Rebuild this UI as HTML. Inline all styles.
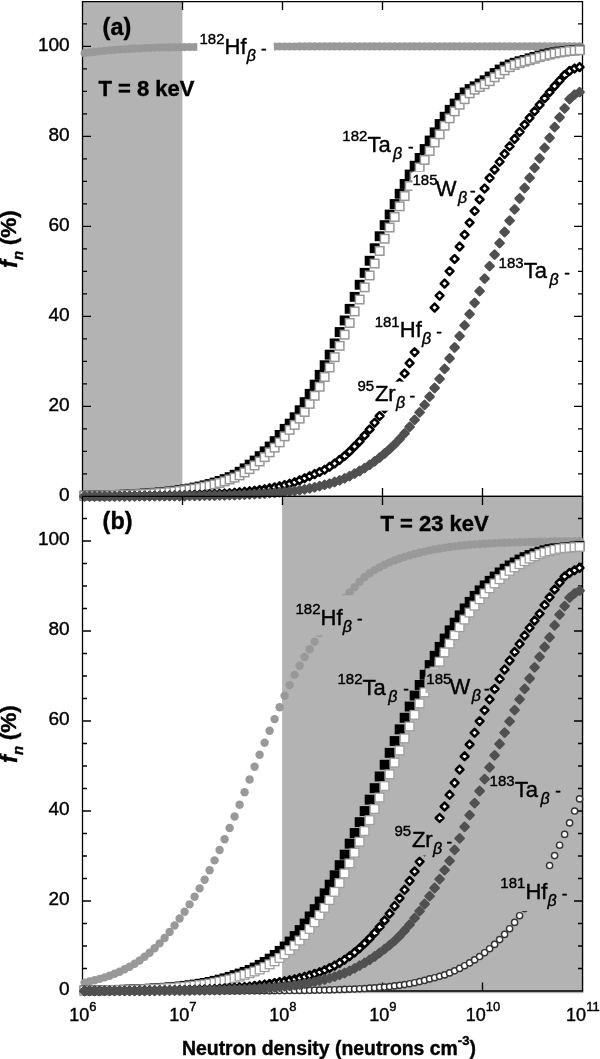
<!DOCTYPE html>
<html><head><meta charset="utf-8"><title>Figure</title>
<style>html,body{margin:0;padding:0;background:#fff}svg{display:block}text{stroke:#000;stroke-width:.4px}</style></head>
<body>
<svg width="600" height="1059" viewBox="0 0 600 1059" font-family="'Liberation Sans', Arial, sans-serif" fill="#000">
<rect x="0" y="0" width="600" height="1059" fill="#fff"/>
<rect x="82.5" y="1.6" width="99.9" height="494.79999999999995" fill="#b3b3b3"/>
<g stroke="#000" stroke-width="1.3" fill="none"><path d="M82.5 0.9000000000000001V497.09999999999997M582.5 0.9000000000000001V497.09999999999997M81.8 1.6H583.2M81.8 496.4H583.2"/><path stroke-width="1.35" d="M82.5 473.9h4.5M582.5 473.9h-4.5M82.5 451.4h4.5M582.5 451.4h-4.5M82.5 428.9h4.5M582.5 428.9h-4.5M82.5 406.4h8.5M582.5 406.4h-8.5M82.5 383.9h4.5M582.5 383.9h-4.5M82.5 361.4h4.5M582.5 361.4h-4.5M82.5 338.9h4.5M582.5 338.9h-4.5M82.5 316.4h8.5M582.5 316.4h-8.5M82.5 293.9h4.5M582.5 293.9h-4.5M82.5 271.4h4.5M582.5 271.4h-4.5M82.5 248.9h4.5M582.5 248.9h-4.5M82.5 226.4h8.5M582.5 226.4h-8.5M82.5 203.9h4.5M582.5 203.9h-4.5M82.5 181.4h4.5M582.5 181.4h-4.5M82.5 158.9h4.5M582.5 158.9h-4.5M82.5 136.4h8.5M582.5 136.4h-8.5M82.5 113.9h4.5M582.5 113.9h-4.5M82.5 91.4h4.5M582.5 91.4h-4.5M82.5 68.9h4.5M582.5 68.9h-4.5M82.5 46.4h8.5M582.5 46.4h-8.5M82.5 23.9h4.5M582.5 23.9h-4.5M182.5 1.6v8.5M182.5 496.4v-8.5M282.5 1.6v8.5M282.5 496.4v-8.5M382.5 1.6v8.5M382.5 496.4v-8.5M482.5 1.6v8.5M482.5 496.4v-8.5"/></g>
<g fill="#999"><circle cx="84.6" cy="53.2" r="4.05"/><circle cx="89.6" cy="52.5" r="4.05"/><circle cx="94.6" cy="51.9" r="4.05"/><circle cx="99.6" cy="51.3" r="4.05"/><circle cx="104.6" cy="50.7" r="4.05"/><circle cx="109.6" cy="50.3" r="4.05"/><circle cx="114.6" cy="49.9" r="4.05"/><circle cx="119.6" cy="49.5" r="4.05"/><circle cx="124.6" cy="49.2" r="4.05"/><circle cx="129.6" cy="48.9" r="4.05"/><circle cx="134.6" cy="48.6" r="4.05"/><circle cx="139.6" cy="48.4" r="4.05"/><circle cx="144.6" cy="48.1" r="4.05"/><circle cx="149.6" cy="48.0" r="4.05"/><circle cx="154.6" cy="47.8" r="4.05"/><circle cx="159.6" cy="47.6" r="4.05"/><circle cx="164.6" cy="47.5" r="4.05"/><circle cx="169.6" cy="47.4" r="4.05"/><circle cx="174.6" cy="47.3" r="4.05"/><circle cx="179.6" cy="47.2" r="4.05"/><circle cx="184.6" cy="47.1" r="4.05"/><circle cx="189.6" cy="47.0" r="4.05"/><circle cx="194.6" cy="47.0" r="4.05"/><circle cx="199.6" cy="46.9" r="4.05"/><circle cx="204.6" cy="46.8" r="4.05"/><circle cx="209.6" cy="46.8" r="4.05"/><circle cx="214.6" cy="46.7" r="4.05"/><circle cx="219.6" cy="46.7" r="4.05"/><circle cx="224.6" cy="46.7" r="4.05"/><circle cx="229.6" cy="46.6" r="4.05"/><circle cx="234.6" cy="46.6" r="4.05"/><circle cx="239.6" cy="46.6" r="4.05"/><circle cx="244.6" cy="46.6" r="4.05"/><circle cx="249.6" cy="46.6" r="4.05"/><circle cx="254.6" cy="46.5" r="4.05"/><circle cx="259.6" cy="46.5" r="4.05"/><circle cx="264.6" cy="46.5" r="4.05"/><circle cx="269.6" cy="46.5" r="4.05"/><circle cx="274.6" cy="46.5" r="4.05"/><circle cx="279.6" cy="46.5" r="4.05"/><circle cx="284.6" cy="46.5" r="4.05"/><circle cx="289.6" cy="46.5" r="4.05"/><circle cx="294.6" cy="46.5" r="4.05"/><circle cx="299.6" cy="46.4" r="4.05"/><circle cx="304.6" cy="46.4" r="4.05"/><circle cx="309.6" cy="46.4" r="4.05"/><circle cx="314.6" cy="46.4" r="4.05"/><circle cx="319.6" cy="46.4" r="4.05"/><circle cx="324.6" cy="46.4" r="4.05"/><circle cx="329.6" cy="46.4" r="4.05"/><circle cx="334.6" cy="46.4" r="4.05"/><circle cx="339.6" cy="46.4" r="4.05"/><circle cx="344.6" cy="46.4" r="4.05"/><circle cx="349.6" cy="46.4" r="4.05"/><circle cx="354.6" cy="46.4" r="4.05"/><circle cx="359.6" cy="46.4" r="4.05"/><circle cx="364.6" cy="46.4" r="4.05"/><circle cx="369.6" cy="46.4" r="4.05"/><circle cx="374.6" cy="46.4" r="4.05"/><circle cx="379.6" cy="46.4" r="4.05"/><circle cx="384.6" cy="46.4" r="4.05"/><circle cx="389.6" cy="46.4" r="4.05"/><circle cx="394.6" cy="46.4" r="4.05"/><circle cx="399.6" cy="46.4" r="4.05"/><circle cx="404.6" cy="46.4" r="4.05"/><circle cx="409.6" cy="46.4" r="4.05"/><circle cx="414.6" cy="46.4" r="4.05"/><circle cx="419.6" cy="46.4" r="4.05"/><circle cx="424.6" cy="46.4" r="4.05"/><circle cx="429.6" cy="46.4" r="4.05"/><circle cx="434.6" cy="46.4" r="4.05"/><circle cx="439.6" cy="46.4" r="4.05"/><circle cx="444.6" cy="46.4" r="4.05"/><circle cx="449.6" cy="46.4" r="4.05"/><circle cx="454.6" cy="46.4" r="4.05"/><circle cx="459.6" cy="46.4" r="4.05"/><circle cx="464.6" cy="46.4" r="4.05"/><circle cx="469.6" cy="46.4" r="4.05"/><circle cx="474.6" cy="46.4" r="4.05"/><circle cx="479.6" cy="46.4" r="4.05"/><circle cx="484.6" cy="46.4" r="4.05"/><circle cx="489.6" cy="46.4" r="4.05"/><circle cx="494.6" cy="46.4" r="4.05"/><circle cx="499.6" cy="46.4" r="4.05"/><circle cx="504.6" cy="46.4" r="4.05"/><circle cx="509.6" cy="46.4" r="4.05"/><circle cx="514.6" cy="46.4" r="4.05"/><circle cx="519.6" cy="46.4" r="4.05"/><circle cx="524.6" cy="46.4" r="4.05"/><circle cx="529.6" cy="46.4" r="4.05"/><circle cx="534.6" cy="46.4" r="4.05"/><circle cx="539.6" cy="46.4" r="4.05"/><circle cx="544.6" cy="46.4" r="4.05"/><circle cx="549.6" cy="46.4" r="4.05"/><circle cx="554.6" cy="46.4" r="4.05"/><circle cx="559.6" cy="46.4" r="4.05"/><circle cx="564.6" cy="46.4" r="4.05"/><circle cx="569.6" cy="46.4" r="4.05"/><circle cx="574.6" cy="46.4" r="4.05"/><circle cx="579.6" cy="46.4" r="4.05"/></g>
<rect x="197.3" y="30" width="76.5" height="40.0" fill="#fff"/>
<g fill="#000"><rect x="79.6" y="490.7" width="9.9" height="9.9"/><rect x="84.6" y="490.7" width="9.9" height="9.9"/><rect x="89.6" y="490.6" width="9.9" height="9.9"/><rect x="94.6" y="490.4" width="9.9" height="9.9"/><rect x="99.6" y="490.3" width="9.9" height="9.9"/><rect x="104.6" y="490.2" width="9.9" height="9.9"/><rect x="109.6" y="490.0" width="9.9" height="9.9"/><rect x="114.6" y="489.9" width="9.9" height="9.9"/><rect x="119.6" y="489.7" width="9.9" height="9.9"/><rect x="124.6" y="489.4" width="9.9" height="9.9"/><rect x="129.7" y="489.2" width="9.9" height="9.9"/><rect x="134.7" y="488.9" width="9.9" height="9.9"/><rect x="139.7" y="488.6" width="9.9" height="9.9"/><rect x="144.7" y="488.3" width="9.9" height="9.9"/><rect x="149.7" y="487.9" width="9.9" height="9.9"/><rect x="154.7" y="487.5" width="9.9" height="9.9"/><rect x="159.7" y="487.0" width="9.9" height="9.9"/><rect x="164.7" y="486.5" width="9.9" height="9.9"/><rect x="169.7" y="485.9" width="9.9" height="9.9"/><rect x="174.7" y="485.2" width="9.9" height="9.9"/><rect x="179.7" y="484.4" width="9.9" height="9.9"/><rect x="184.7" y="483.6" width="9.9" height="9.9"/><rect x="189.7" y="482.6" width="9.9" height="9.9"/><rect x="194.7" y="481.6" width="9.9" height="9.9"/><rect x="199.7" y="480.4" width="9.9" height="9.9"/><rect x="204.7" y="479.1" width="9.9" height="9.9"/><rect x="209.7" y="477.6" width="9.9" height="9.9"/><rect x="214.7" y="476.0" width="9.9" height="9.9"/><rect x="219.7" y="474.2" width="9.9" height="9.9"/><rect x="224.7" y="472.2" width="9.9" height="9.9"/><rect x="229.7" y="469.8" width="9.9" height="9.9"/><rect x="234.7" y="466.8" width="9.9" height="9.9"/><rect x="239.7" y="463.4" width="9.9" height="9.9"/><rect x="244.7" y="459.7" width="9.9" height="9.9"/><rect x="249.7" y="455.6" width="9.9" height="9.9"/><rect x="254.7" y="451.2" width="9.9" height="9.9"/><rect x="259.7" y="446.4" width="9.9" height="9.9"/><rect x="264.7" y="441.6" width="9.9" height="9.9"/><rect x="269.7" y="436.2" width="9.9" height="9.9"/><rect x="274.7" y="430.0" width="9.9" height="9.9"/><rect x="279.7" y="423.9" width="9.9" height="9.9"/><rect x="284.7" y="418.7" width="9.9" height="9.9"/><rect x="289.7" y="412.3" width="9.9" height="9.9"/><rect x="294.7" y="405.3" width="9.9" height="9.9"/><rect x="299.7" y="397.2" width="9.9" height="9.9"/><rect x="304.7" y="388.9" width="9.9" height="9.9"/><rect x="309.7" y="379.7" width="9.9" height="9.9"/><rect x="314.7" y="369.9" width="9.9" height="9.9"/><rect x="319.7" y="360.3" width="9.9" height="9.9"/><rect x="324.7" y="349.7" width="9.9" height="9.9"/><rect x="329.7" y="338.5" width="9.9" height="9.9"/><rect x="334.7" y="327.1" width="9.9" height="9.9"/><rect x="339.7" y="315.5" width="9.9" height="9.9"/><rect x="344.7" y="303.9" width="9.9" height="9.9"/><rect x="349.7" y="291.9" width="9.9" height="9.9"/><rect x="354.7" y="279.8" width="9.9" height="9.9"/><rect x="359.7" y="267.9" width="9.9" height="9.9"/><rect x="364.7" y="255.8" width="9.9" height="9.9"/><rect x="369.7" y="243.3" width="9.9" height="9.9"/><rect x="374.7" y="231.3" width="9.9" height="9.9"/><rect x="379.7" y="220.2" width="9.9" height="9.9"/><rect x="384.7" y="209.6" width="9.9" height="9.9"/><rect x="389.7" y="199.1" width="9.9" height="9.9"/><rect x="394.7" y="188.8" width="9.9" height="9.9"/><rect x="399.7" y="179.0" width="9.9" height="9.9"/><rect x="404.7" y="169.6" width="9.9" height="9.9"/><rect x="409.7" y="160.8" width="9.9" height="9.9"/><rect x="414.7" y="153.0" width="9.9" height="9.9"/><rect x="419.7" y="144.1" width="9.9" height="9.9"/><rect x="424.7" y="135.6" width="9.9" height="9.9"/><rect x="429.7" y="127.4" width="9.9" height="9.9"/><rect x="434.7" y="119.1" width="9.9" height="9.9"/><rect x="439.7" y="111.8" width="9.9" height="9.9"/><rect x="444.7" y="104.9" width="9.9" height="9.9"/><rect x="449.7" y="98.6" width="9.9" height="9.9"/><rect x="454.7" y="92.9" width="9.9" height="9.9"/><rect x="459.7" y="87.5" width="9.9" height="9.9"/><rect x="464.7" y="84.1" width="9.9" height="9.9"/><rect x="469.7" y="81.4" width="9.9" height="9.9"/><rect x="474.7" y="78.6" width="9.9" height="9.9"/><rect x="479.7" y="75.3" width="9.9" height="9.9"/><rect x="484.7" y="71.6" width="9.9" height="9.9"/><rect x="489.7" y="68.1" width="9.9" height="9.9"/><rect x="494.7" y="64.6" width="9.9" height="9.9"/><rect x="499.7" y="61.7" width="9.9" height="9.9"/><rect x="504.7" y="59.5" width="9.9" height="9.9"/><rect x="509.7" y="57.8" width="9.9" height="9.9"/><rect x="514.6" y="56.3" width="9.9" height="9.9"/><rect x="519.6" y="55.0" width="9.9" height="9.9"/><rect x="524.6" y="53.4" width="9.9" height="9.9"/><rect x="529.6" y="51.9" width="9.9" height="9.9"/><rect x="534.6" y="50.6" width="9.9" height="9.9"/><rect x="539.6" y="49.4" width="9.9" height="9.9"/><rect x="544.6" y="48.3" width="9.9" height="9.9"/><rect x="549.6" y="47.4" width="9.9" height="9.9"/><rect x="554.6" y="46.6" width="9.9" height="9.9"/><rect x="559.6" y="46.0" width="9.9" height="9.9"/><rect x="564.6" y="45.6" width="9.9" height="9.9"/><rect x="569.6" y="45.2" width="9.9" height="9.9"/><rect x="574.6" y="44.8" width="9.9" height="9.9"/></g>
<g fill="#fff" stroke="#969696" stroke-width="1.5"><rect x="80.3" y="491.5" width="8.5" height="8.5"/><rect x="85.3" y="491.5" width="8.5" height="8.5"/><rect x="90.3" y="491.4" width="8.5" height="8.5"/><rect x="95.3" y="491.3" width="8.5" height="8.5"/><rect x="100.3" y="491.2" width="8.5" height="8.5"/><rect x="105.3" y="491.1" width="8.5" height="8.5"/><rect x="110.3" y="490.9" width="8.5" height="8.5"/><rect x="115.3" y="490.8" width="8.5" height="8.5"/><rect x="120.3" y="490.6" width="8.5" height="8.5"/><rect x="125.3" y="490.4" width="8.5" height="8.5"/><rect x="130.3" y="490.2" width="8.5" height="8.5"/><rect x="135.3" y="490.0" width="8.5" height="8.5"/><rect x="140.3" y="489.7" width="8.5" height="8.5"/><rect x="145.3" y="489.4" width="8.5" height="8.5"/><rect x="150.3" y="489.1" width="8.5" height="8.5"/><rect x="155.3" y="488.7" width="8.5" height="8.5"/><rect x="160.3" y="488.3" width="8.5" height="8.5"/><rect x="165.3" y="487.8" width="8.5" height="8.5"/><rect x="170.3" y="487.3" width="8.5" height="8.5"/><rect x="175.3" y="486.7" width="8.5" height="8.5"/><rect x="180.3" y="486.0" width="8.5" height="8.5"/><rect x="185.3" y="485.3" width="8.5" height="8.5"/><rect x="190.3" y="484.5" width="8.5" height="8.5"/><rect x="195.3" y="483.6" width="8.5" height="8.5"/><rect x="200.3" y="482.5" width="8.5" height="8.5"/><rect x="205.3" y="481.4" width="8.5" height="8.5"/><rect x="210.3" y="480.1" width="8.5" height="8.5"/><rect x="215.3" y="478.7" width="8.5" height="8.5"/><rect x="220.3" y="477.1" width="8.5" height="8.5"/><rect x="225.3" y="475.3" width="8.5" height="8.5"/><rect x="230.3" y="473.4" width="8.5" height="8.5"/><rect x="235.3" y="471.1" width="8.5" height="8.5"/><rect x="240.3" y="468.2" width="8.5" height="8.5"/><rect x="245.3" y="464.9" width="8.5" height="8.5"/><rect x="250.3" y="461.2" width="8.5" height="8.5"/><rect x="255.4" y="457.2" width="8.5" height="8.5"/><rect x="260.4" y="452.9" width="8.5" height="8.5"/><rect x="265.4" y="448.1" width="8.5" height="8.5"/><rect x="270.4" y="443.4" width="8.5" height="8.5"/><rect x="275.4" y="438.1" width="8.5" height="8.5"/><rect x="280.4" y="432.1" width="8.5" height="8.5"/><rect x="285.4" y="425.6" width="8.5" height="8.5"/><rect x="290.4" y="420.7" width="8.5" height="8.5"/><rect x="295.4" y="414.4" width="8.5" height="8.5"/><rect x="300.4" y="407.7" width="8.5" height="8.5"/><rect x="305.4" y="399.6" width="8.5" height="8.5"/><rect x="310.4" y="391.5" width="8.5" height="8.5"/><rect x="315.4" y="382.5" width="8.5" height="8.5"/><rect x="320.4" y="372.7" width="8.5" height="8.5"/><rect x="325.4" y="363.2" width="8.5" height="8.5"/><rect x="330.4" y="352.9" width="8.5" height="8.5"/><rect x="335.4" y="341.6" width="8.5" height="8.5"/><rect x="340.4" y="330.4" width="8.5" height="8.5"/><rect x="345.4" y="318.7" width="8.5" height="8.5"/><rect x="350.4" y="307.2" width="8.5" height="8.5"/><rect x="355.4" y="295.3" width="8.5" height="8.5"/><rect x="360.4" y="283.1" width="8.5" height="8.5"/><rect x="365.4" y="271.2" width="8.5" height="8.5"/><rect x="370.4" y="259.3" width="8.5" height="8.5"/><rect x="375.4" y="246.7" width="8.5" height="8.5"/><rect x="380.4" y="234.5" width="8.5" height="8.5"/><rect x="385.4" y="223.3" width="8.5" height="8.5"/><rect x="390.4" y="212.7" width="8.5" height="8.5"/><rect x="395.4" y="202.1" width="8.5" height="8.5"/><rect x="400.4" y="191.8" width="8.5" height="8.5"/><rect x="405.4" y="181.8" width="8.5" height="8.5"/><rect x="410.4" y="172.3" width="8.5" height="8.5"/><rect x="415.4" y="163.2" width="8.5" height="8.5"/><rect x="420.4" y="155.7" width="8.5" height="8.5"/><rect x="425.4" y="146.7" width="8.5" height="8.5"/><rect x="430.4" y="138.2" width="8.5" height="8.5"/><rect x="435.4" y="130.1" width="8.5" height="8.5"/><rect x="440.4" y="121.5" width="8.5" height="8.5"/><rect x="445.4" y="114.1" width="8.5" height="8.5"/><rect x="450.4" y="107.1" width="8.5" height="8.5"/><rect x="455.4" y="100.5" width="8.5" height="8.5"/><rect x="460.4" y="94.9" width="8.5" height="8.5"/><rect x="465.4" y="89.1" width="8.5" height="8.5"/><rect x="470.4" y="85.4" width="8.5" height="8.5"/><rect x="475.4" y="82.7" width="8.5" height="8.5"/><rect x="480.4" y="80.0" width="8.5" height="8.5"/><rect x="485.4" y="76.9" width="8.5" height="8.5"/><rect x="490.4" y="73.0" width="8.5" height="8.5"/><rect x="495.4" y="69.7" width="8.5" height="8.5"/><rect x="500.4" y="66.1" width="8.5" height="8.5"/><rect x="505.4" y="62.9" width="8.5" height="8.5"/><rect x="510.4" y="60.6" width="8.5" height="8.5"/><rect x="515.4" y="58.9" width="8.5" height="8.5"/><rect x="520.4" y="57.4" width="8.5" height="8.5"/><rect x="525.4" y="56.0" width="8.5" height="8.5"/><rect x="530.4" y="54.5" width="8.5" height="8.5"/><rect x="535.4" y="52.9" width="8.5" height="8.5"/><rect x="540.4" y="51.6" width="8.5" height="8.5"/><rect x="545.4" y="50.4" width="8.5" height="8.5"/><rect x="550.4" y="49.2" width="8.5" height="8.5"/><rect x="555.4" y="48.3" width="8.5" height="8.5"/><rect x="560.4" y="47.5" width="8.5" height="8.5"/><rect x="565.4" y="46.8" width="8.5" height="8.5"/><rect x="570.4" y="46.4" width="8.5" height="8.5"/><rect x="575.4" y="46.0" width="8.5" height="8.5"/></g>
<rect x="412.5" y="171.7" width="63.5" height="20.3" fill="#fff"/>
<g fill="#fff" stroke="#000" stroke-width="2.5" stroke-linejoin="round"><path d="M80.7 496.3L84.6 492.4L88.5 496.3L84.6 500.2Z"/><path d="M85.7 496.3L89.6 492.4L93.5 496.3L89.6 500.2Z"/><path d="M90.7 496.3L94.6 492.4L98.5 496.3L94.6 500.2Z"/><path d="M95.7 496.2L99.6 492.3L103.5 496.2L99.6 500.1Z"/><path d="M100.7 496.2L104.6 492.3L108.5 496.2L104.6 500.1Z"/><path d="M105.7 496.2L109.6 492.3L113.5 496.2L109.6 500.1Z"/><path d="M110.7 496.2L114.6 492.3L118.5 496.2L114.6 500.1Z"/><path d="M115.7 496.1L119.6 492.2L123.5 496.1L119.6 500.0Z"/><path d="M120.7 496.1L124.6 492.2L128.5 496.1L124.6 500.0Z"/><path d="M125.7 496.1L129.6 492.2L133.5 496.1L129.6 500.0Z"/><path d="M130.7 496.0L134.6 492.1L138.5 496.0L134.6 499.9Z"/><path d="M135.7 496.0L139.6 492.1L143.5 496.0L139.6 499.9Z"/><path d="M140.7 495.9L144.6 492.0L148.5 495.9L144.6 499.8Z"/><path d="M145.7 495.9L149.6 492.0L153.5 495.9L149.6 499.8Z"/><path d="M150.7 495.8L154.6 491.9L158.5 495.8L154.6 499.7Z"/><path d="M155.7 495.7L159.6 491.8L163.5 495.7L159.6 499.6Z"/><path d="M160.7 495.7L164.6 491.8L168.5 495.7L164.6 499.6Z"/><path d="M165.7 495.6L169.6 491.7L173.5 495.6L169.6 499.5Z"/><path d="M170.7 495.5L174.6 491.6L178.5 495.5L174.6 499.4Z"/><path d="M175.7 495.4L179.6 491.5L183.5 495.4L179.6 499.3Z"/><path d="M180.7 495.2L184.6 491.3L188.5 495.2L184.6 499.1Z"/><path d="M185.7 495.1L189.6 491.2L193.5 495.1L189.6 499.0Z"/><path d="M190.7 494.9L194.6 491.0L198.5 494.9L194.6 498.8Z"/><path d="M195.7 494.8L199.6 490.9L203.5 494.8L199.6 498.7Z"/><path d="M200.7 494.6L204.6 490.7L208.5 494.6L204.6 498.5Z"/><path d="M205.7 494.3L209.6 490.4L213.5 494.3L209.6 498.2Z"/><path d="M210.7 494.1L214.6 490.2L218.5 494.1L214.6 498.0Z"/><path d="M215.7 493.8L219.6 489.9L223.5 493.8L219.6 497.7Z"/><path d="M220.7 493.5L224.6 489.6L228.5 493.5L224.6 497.4Z"/><path d="M225.7 493.2L229.6 489.3L233.5 493.2L229.6 497.1Z"/><path d="M230.7 492.8L234.6 488.9L238.5 492.8L234.6 496.7Z"/><path d="M235.7 492.3L239.6 488.4L243.5 492.3L239.6 496.2Z"/><path d="M240.7 491.8L244.6 487.9L248.5 491.8L244.6 495.7Z"/><path d="M245.7 491.3L249.6 487.4L253.5 491.3L249.6 495.2Z"/><path d="M250.7 490.7L254.6 486.8L258.5 490.7L254.6 494.6Z"/><path d="M255.7 490.0L259.6 486.1L263.5 490.0L259.6 493.9Z"/><path d="M260.7 489.2L264.6 485.3L268.5 489.2L264.6 493.1Z"/><path d="M265.7 488.3L269.6 484.4L273.5 488.3L269.6 492.2Z"/><path d="M270.7 487.4L274.6 483.5L278.5 487.4L274.6 491.3Z"/><path d="M275.7 486.3L279.6 482.4L283.5 486.3L279.6 490.2Z"/><path d="M280.7 485.1L284.6 481.2L288.5 485.1L284.6 489.0Z"/><path d="M285.7 483.8L289.6 479.9L293.5 483.8L289.6 487.7Z"/><path d="M290.7 482.2L294.6 478.3L298.5 482.2L294.6 486.1Z"/><path d="M295.7 480.3L299.6 476.4L303.5 480.3L299.6 484.2Z"/><path d="M300.7 478.2L304.6 474.3L308.5 478.2L304.6 482.1Z"/><path d="M305.7 476.2L309.6 472.3L313.5 476.2L309.6 480.1Z"/><path d="M310.7 474.1L314.6 470.2L318.5 474.1L314.6 478.0Z"/><path d="M315.7 472.0L319.6 468.1L323.5 472.0L319.6 475.9Z"/><path d="M320.7 469.8L324.6 465.9L328.5 469.8L324.6 473.7Z"/><path d="M325.7 466.8L329.6 462.9L333.5 466.8L329.6 470.7Z"/><path d="M330.7 463.5L334.6 459.6L338.5 463.5L334.6 467.4Z"/><path d="M335.7 459.9L339.6 456.0L343.5 459.9L339.6 463.8Z"/><path d="M340.7 456.0L344.6 452.1L348.5 456.0L344.6 459.9Z"/><path d="M345.7 451.5L349.6 447.6L353.5 451.5L349.6 455.4Z"/><path d="M350.7 446.4L354.6 442.5L358.5 446.4L354.6 450.3Z"/><path d="M355.7 441.4L359.6 437.5L363.5 441.4L359.6 445.3Z"/><path d="M360.7 435.5L364.6 431.6L368.5 435.5L364.6 439.4Z"/><path d="M365.7 429.5L369.6 425.6L373.5 429.5L369.6 433.4Z"/><path d="M370.7 422.7L374.6 418.8L378.5 422.7L374.6 426.6Z"/><path d="M375.7 416.0L379.6 412.1L383.5 416.0L379.6 419.9Z"/><path d="M380.7 408.5L384.6 404.6L388.5 408.5L384.6 412.4Z"/><path d="M385.7 400.5L389.6 396.6L393.5 400.5L389.6 404.4Z"/><path d="M390.7 392.0L394.6 388.1L398.5 392.0L394.6 395.9Z"/><path d="M395.7 383.0L399.6 379.1L403.5 383.0L399.6 386.9Z"/><path d="M400.7 373.5L404.6 369.6L408.5 373.5L404.6 377.4Z"/><path d="M405.7 363.1L409.6 359.2L413.5 363.1L409.6 367.0Z"/><path d="M410.7 352.2L414.6 348.3L418.5 352.2L414.6 356.1Z"/><path d="M430.7 307.6L434.6 303.7L438.5 307.6L434.6 311.5Z"/><path d="M435.7 295.7L439.6 291.8L443.5 295.7L439.6 299.6Z"/><path d="M440.7 283.6L444.6 279.7L448.5 283.6L444.6 287.5Z"/><path d="M445.7 271.2L449.6 267.3L453.5 271.2L449.6 275.1Z"/><path d="M450.7 259.0L454.6 255.1L458.5 259.0L454.6 262.9Z"/><path d="M455.7 246.6L459.6 242.7L463.5 246.6L459.6 250.5Z"/><path d="M460.7 234.7L464.6 230.8L468.5 234.7L464.6 238.6Z"/><path d="M465.7 222.7L469.6 218.8L473.5 222.7L469.6 226.6Z"/><path d="M470.7 211.0L474.6 207.1L478.5 211.0L474.6 214.9Z"/><path d="M475.7 199.5L479.6 195.6L483.5 199.5L479.6 203.4Z"/><path d="M480.7 188.5L484.6 184.6L488.5 188.5L484.6 192.4Z"/><path d="M485.7 178.0L489.6 174.1L493.5 178.0L489.6 181.9Z"/><path d="M490.7 169.6L494.6 165.7L498.5 169.6L494.6 173.5Z"/><path d="M495.7 161.8L499.6 157.9L503.5 161.8L499.6 165.7Z"/><path d="M500.7 153.9L504.6 150.0L508.5 153.9L504.6 157.8Z"/><path d="M505.7 146.3L509.6 142.4L513.5 146.3L509.6 150.2Z"/><path d="M510.7 138.9L514.6 135.0L518.5 138.9L514.6 142.8Z"/><path d="M515.7 132.0L519.6 128.1L523.5 132.0L519.6 135.9Z"/><path d="M520.7 124.7L524.6 120.8L528.5 124.7L524.6 128.6Z"/><path d="M525.7 117.9L529.6 114.0L533.5 117.9L529.6 121.8Z"/><path d="M530.7 111.2L534.6 107.3L538.5 111.2L534.6 115.1Z"/><path d="M535.7 104.9L539.6 101.0L543.5 104.9L539.6 108.8Z"/><path d="M540.7 98.3L544.6 94.4L548.5 98.3L544.6 102.2Z"/><path d="M545.7 92.2L549.6 88.3L553.5 92.2L549.6 96.1Z"/><path d="M550.7 86.1L554.6 82.2L558.5 86.1L554.6 90.0Z"/><path d="M555.7 80.6L559.6 76.7L563.5 80.6L559.6 84.5Z"/><path d="M560.7 75.0L564.6 71.1L568.5 75.0L564.6 78.9Z"/><path d="M565.7 70.9L569.6 67.0L573.5 70.9L569.6 74.8Z"/><path d="M570.7 68.5L574.6 64.6L578.5 68.5L574.6 72.4Z"/><path d="M575.7 67.1L579.6 63.2L583.5 67.1L579.6 71.0Z"/></g>
<rect x="357" y="381.6" width="58.5" height="29.1" fill="#fff"/>
<g fill="#505050" stroke="#505050" stroke-width="2.6" stroke-linejoin="round"><path d="M80.6 496.4L84.6 492.4L88.6 496.4L84.6 500.4Z"/><path d="M85.6 496.3L89.6 492.3L93.6 496.3L89.6 500.3Z"/><path d="M90.6 496.3L94.6 492.3L98.6 496.3L94.6 500.3Z"/><path d="M95.6 496.3L99.6 492.3L103.6 496.3L99.6 500.3Z"/><path d="M100.6 496.3L104.6 492.3L108.6 496.3L104.6 500.3Z"/><path d="M105.6 496.3L109.6 492.3L113.6 496.3L109.6 500.3Z"/><path d="M110.6 496.3L114.6 492.3L118.6 496.3L114.6 500.3Z"/><path d="M115.6 496.3L119.6 492.3L123.6 496.3L119.6 500.3Z"/><path d="M120.6 496.3L124.6 492.3L128.6 496.3L124.6 500.3Z"/><path d="M125.6 496.3L129.6 492.3L133.6 496.3L129.6 500.3Z"/><path d="M130.6 496.3L134.6 492.3L138.6 496.3L134.6 500.3Z"/><path d="M135.6 496.2L139.6 492.2L143.6 496.2L139.6 500.2Z"/><path d="M140.6 496.2L144.6 492.2L148.6 496.2L144.6 500.2Z"/><path d="M145.6 496.2L149.6 492.2L153.6 496.2L149.6 500.2Z"/><path d="M150.6 496.2L154.6 492.2L158.6 496.2L154.6 500.2Z"/><path d="M155.6 496.1L159.6 492.1L163.6 496.1L159.6 500.1Z"/><path d="M160.6 496.1L164.6 492.1L168.6 496.1L164.6 500.1Z"/><path d="M165.6 496.1L169.6 492.1L173.6 496.1L169.6 500.1Z"/><path d="M170.6 496.0L174.6 492.0L178.6 496.0L174.6 500.0Z"/><path d="M175.6 496.0L179.6 492.0L183.6 496.0L179.6 500.0Z"/><path d="M180.6 496.0L184.6 492.0L188.6 496.0L184.6 500.0Z"/><path d="M185.6 495.9L189.6 491.9L193.6 495.9L189.6 499.9Z"/><path d="M190.6 495.8L194.6 491.8L198.6 495.8L194.6 499.8Z"/><path d="M195.6 495.8L199.6 491.8L203.6 495.8L199.6 499.8Z"/><path d="M200.6 495.7L204.6 491.7L208.6 495.7L204.6 499.7Z"/><path d="M205.6 495.6L209.6 491.6L213.6 495.6L209.6 499.6Z"/><path d="M210.6 495.5L214.6 491.5L218.6 495.5L214.6 499.5Z"/><path d="M215.6 495.4L219.6 491.4L223.6 495.4L219.6 499.4Z"/><path d="M220.6 495.3L224.6 491.3L228.6 495.3L224.6 499.3Z"/><path d="M225.6 495.1L229.6 491.1L233.6 495.1L229.6 499.1Z"/><path d="M230.6 495.0L234.6 491.0L238.6 495.0L234.6 499.0Z"/><path d="M235.6 494.8L239.6 490.8L243.6 494.8L239.6 498.8Z"/><path d="M240.6 494.6L244.6 490.6L248.6 494.6L244.6 498.6Z"/><path d="M245.6 494.4L249.6 490.4L253.6 494.4L249.6 498.4Z"/><path d="M250.6 494.2L254.6 490.2L258.6 494.2L254.6 498.2Z"/><path d="M255.6 493.9L259.6 489.9L263.6 493.9L259.6 497.9Z"/><path d="M260.6 493.6L264.6 489.6L268.6 493.6L264.6 497.6Z"/><path d="M265.6 493.2L269.6 489.2L273.6 493.2L269.6 497.2Z"/><path d="M270.6 492.9L274.6 488.9L278.6 492.9L274.6 496.9Z"/><path d="M275.6 492.4L279.6 488.4L283.6 492.4L279.6 496.4Z"/><path d="M280.6 492.0L284.6 488.0L288.6 492.0L284.6 496.0Z"/><path d="M285.6 491.4L289.6 487.4L293.6 491.4L289.6 495.4Z"/><path d="M290.6 490.8L294.6 486.8L298.6 490.8L294.6 494.8Z"/><path d="M295.6 490.2L299.6 486.2L303.6 490.2L299.6 494.2Z"/><path d="M300.6 489.3L304.6 485.3L308.6 489.3L304.6 493.3Z"/><path d="M305.6 488.4L309.6 484.4L313.6 488.4L309.6 492.4Z"/><path d="M310.6 487.3L314.6 483.3L318.6 487.3L314.6 491.3Z"/><path d="M315.6 486.2L319.6 482.2L323.6 486.2L319.6 490.2Z"/><path d="M320.6 484.9L324.6 480.9L328.6 484.9L324.6 488.9Z"/><path d="M325.6 483.6L329.6 479.6L333.6 483.6L329.6 487.6Z"/><path d="M330.6 482.0L334.6 478.0L338.6 482.0L334.6 486.0Z"/><path d="M335.6 480.3L339.6 476.3L343.6 480.3L339.6 484.3Z"/><path d="M340.6 478.4L344.6 474.4L348.6 478.4L344.6 482.4Z"/><path d="M345.6 476.2L349.6 472.2L353.6 476.2L349.6 480.2Z"/><path d="M350.6 473.7L354.6 469.7L358.6 473.7L354.6 477.7Z"/><path d="M355.6 471.0L359.6 467.0L363.6 471.0L359.6 475.0Z"/><path d="M360.6 468.1L364.6 464.1L368.6 468.1L364.6 472.1Z"/><path d="M365.6 464.9L369.6 460.9L373.6 464.9L369.6 468.9Z"/><path d="M370.6 461.4L374.6 457.4L378.6 461.4L374.6 465.4Z"/><path d="M375.6 457.6L379.6 453.6L383.6 457.6L379.6 461.6Z"/><path d="M380.6 453.5L384.6 449.5L388.6 453.5L384.6 457.5Z"/><path d="M385.6 449.2L389.6 445.2L393.6 449.2L389.6 453.2Z"/><path d="M390.6 444.4L394.6 440.4L398.6 444.4L394.6 448.4Z"/><path d="M395.6 439.2L399.6 435.2L403.6 439.2L399.6 443.2Z"/><path d="M400.6 433.3L404.6 429.3L408.6 433.3L404.6 437.3Z"/><path d="M405.6 426.9L409.6 422.9L413.6 426.9L409.6 430.9Z"/><path d="M410.6 419.9L414.6 415.9L418.6 419.9L414.6 423.9Z"/><path d="M415.6 412.4L419.6 408.4L423.6 412.4L419.6 416.4Z"/><path d="M420.6 404.8L424.6 400.8L428.6 404.8L424.6 408.8Z"/><path d="M425.6 396.6L429.6 392.6L433.6 396.6L429.6 400.6Z"/><path d="M430.6 388.0L434.6 384.0L438.6 388.0L434.6 392.0Z"/><path d="M435.6 378.8L439.6 374.8L443.6 378.8L439.6 382.8Z"/><path d="M440.6 368.9L444.6 364.9L448.6 368.9L444.6 372.9Z"/><path d="M445.6 358.4L449.6 354.4L453.6 358.4L449.6 362.4Z"/><path d="M450.6 347.5L454.6 343.5L458.6 347.5L454.6 351.5Z"/><path d="M455.6 336.2L459.6 332.2L463.6 336.2L459.6 340.2Z"/><path d="M460.6 325.3L464.6 321.3L468.6 325.3L464.6 329.3Z"/><path d="M465.6 314.1L469.6 310.1L473.6 314.1L469.6 318.1Z"/><path d="M470.6 302.8L474.6 298.8L478.6 302.8L474.6 306.8Z"/><path d="M475.6 291.2L479.6 287.2L483.6 291.2L479.6 295.2Z"/><path d="M480.6 278.7L484.6 274.7L488.6 278.7L484.6 282.7Z"/><path d="M485.6 266.1L489.6 262.1L493.6 266.1L489.6 270.1Z"/><path d="M490.6 254.6L494.6 250.6L498.6 254.6L494.6 258.6Z"/><path d="M495.6 243.2L499.6 239.2L503.6 243.2L499.6 247.2Z"/><path d="M500.6 232.0L504.6 228.0L508.6 232.0L504.6 236.0Z"/><path d="M505.6 220.6L509.6 216.6L513.6 220.6L509.6 224.6Z"/><path d="M510.6 209.4L514.6 205.4L518.6 209.4L514.6 213.4Z"/><path d="M515.6 198.5L519.6 194.5L523.6 198.5L519.6 202.5Z"/><path d="M520.6 188.0L524.6 184.0L528.6 188.0L524.6 192.0Z"/><path d="M525.6 177.9L529.6 173.9L533.6 177.9L529.6 181.9Z"/><path d="M530.6 167.9L534.6 163.9L538.6 167.9L534.6 171.9Z"/><path d="M535.6 158.3L539.6 154.3L543.6 158.3L539.6 162.3Z"/><path d="M540.6 147.8L544.6 143.8L548.6 147.8L544.6 151.8Z"/><path d="M545.6 137.9L549.6 133.9L553.6 137.9L549.6 141.9Z"/><path d="M550.6 127.1L554.6 123.1L558.6 127.1L554.6 131.1Z"/><path d="M555.6 117.3L559.6 113.3L563.6 117.3L559.6 121.3Z"/><path d="M560.6 108.4L564.6 104.4L568.6 108.4L564.6 112.4Z"/><path d="M565.6 99.1L569.6 95.1L573.6 99.1L569.6 103.1Z"/><path d="M570.6 94.6L574.6 90.6L578.6 94.6L574.6 98.6Z"/><path d="M575.6 92.2L579.6 88.2L583.6 92.2L579.6 96.2Z"/></g>
<rect x="282.1" y="496.4" width="301.3" height="496.8" fill="#b3b3b3"/>
<g stroke="#000" stroke-width="1.3" fill="none"><path d="M82.5 495.7V991.7M582.5 495.7V991.7M81.8 496.4H583.2M81.8 991.0H583.2"/><path stroke-width="1.35" d="M82.5 968.5h4.5M582.5 968.5h-4.5M82.5 946.0h4.5M582.5 946.0h-4.5M82.5 923.5h4.5M582.5 923.5h-4.5M82.5 901.0h8.5M582.5 901.0h-8.5M82.5 878.5h4.5M582.5 878.5h-4.5M82.5 856.0h4.5M582.5 856.0h-4.5M82.5 833.5h4.5M582.5 833.5h-4.5M82.5 811.0h8.5M582.5 811.0h-8.5M82.5 788.5h4.5M582.5 788.5h-4.5M82.5 766.0h4.5M582.5 766.0h-4.5M82.5 743.5h4.5M582.5 743.5h-4.5M82.5 721.0h8.5M582.5 721.0h-8.5M82.5 698.5h4.5M582.5 698.5h-4.5M82.5 676.0h4.5M582.5 676.0h-4.5M82.5 653.5h4.5M582.5 653.5h-4.5M82.5 631.0h8.5M582.5 631.0h-8.5M82.5 608.5h4.5M582.5 608.5h-4.5M82.5 586.0h4.5M582.5 586.0h-4.5M82.5 563.5h4.5M582.5 563.5h-4.5M82.5 541.0h8.5M582.5 541.0h-8.5M82.5 518.5h4.5M582.5 518.5h-4.5M182.5 496.4v8.5M182.5 991.0v-8.5M282.5 496.4v8.5M282.5 991.0v-8.5M382.5 496.4v8.5M382.5 991.0v-8.5M482.5 496.4v8.5M482.5 991.0v-8.5"/></g>
<g fill="#999"><circle cx="84.6" cy="982.6" r="4.2"/><circle cx="89.6" cy="981.5" r="4.2"/><circle cx="94.6" cy="980.3" r="4.2"/><circle cx="99.6" cy="978.9" r="4.2"/><circle cx="104.6" cy="977.4" r="4.2"/><circle cx="109.6" cy="975.7" r="4.2"/><circle cx="114.6" cy="973.8" r="4.2"/><circle cx="119.6" cy="971.7" r="4.2"/><circle cx="124.6" cy="969.3" r="4.2"/><circle cx="129.6" cy="966.7" r="4.2"/><circle cx="134.6" cy="963.8" r="4.2"/><circle cx="139.6" cy="960.5" r="4.2"/><circle cx="144.6" cy="956.8" r="4.2"/><circle cx="149.6" cy="952.8" r="4.2"/><circle cx="154.6" cy="948.3" r="4.2"/><circle cx="159.6" cy="943.4" r="4.2"/><circle cx="164.6" cy="938.0" r="4.2"/><circle cx="169.6" cy="932.0" r="4.2"/><circle cx="174.6" cy="925.5" r="4.2"/><circle cx="179.6" cy="918.5" r="4.2"/><circle cx="184.6" cy="911.7" r="4.2"/><circle cx="189.6" cy="904.4" r="4.2"/><circle cx="194.6" cy="896.7" r="4.2"/><circle cx="199.6" cy="888.4" r="4.2"/><circle cx="204.6" cy="879.7" r="4.2"/><circle cx="209.6" cy="870.3" r="4.2"/><circle cx="214.6" cy="860.4" r="4.2"/><circle cx="219.6" cy="850.0" r="4.2"/><circle cx="224.6" cy="839.2" r="4.2"/><circle cx="229.6" cy="828.0" r="4.2"/><circle cx="234.6" cy="816.5" r="4.2"/><circle cx="239.6" cy="804.7" r="4.2"/><circle cx="244.6" cy="792.2" r="4.2"/><circle cx="249.6" cy="779.5" r="4.2"/><circle cx="254.6" cy="766.8" r="4.2"/><circle cx="259.6" cy="754.7" r="4.2"/><circle cx="264.6" cy="742.7" r="4.2"/><circle cx="269.6" cy="730.8" r="4.2"/><circle cx="274.6" cy="719.1" r="4.2"/><circle cx="279.6" cy="707.3" r="4.2"/><circle cx="284.6" cy="695.8" r="4.2"/><circle cx="289.6" cy="685.1" r="4.2"/><circle cx="294.6" cy="674.9" r="4.2"/><circle cx="299.6" cy="665.7" r="4.2"/><circle cx="304.6" cy="657.0" r="4.2"/><circle cx="309.6" cy="649.3" r="4.2"/><circle cx="314.6" cy="641.6" r="4.2"/><circle cx="319.6" cy="633.0" r="4.2"/><circle cx="324.6" cy="624.9" r="4.2"/><circle cx="329.6" cy="617.3" r="4.2"/><circle cx="334.6" cy="610.4" r="4.2"/><circle cx="339.6" cy="603.9" r="4.2"/><circle cx="344.6" cy="598.0" r="4.2"/><circle cx="349.6" cy="592.5" r="4.2"/><circle cx="354.6" cy="587.1" r="4.2"/><circle cx="359.6" cy="581.8" r="4.2"/><circle cx="364.6" cy="577.0" r="4.2"/><circle cx="369.6" cy="573.3" r="4.2"/><circle cx="374.6" cy="570.1" r="4.2"/><circle cx="379.6" cy="567.3" r="4.2"/><circle cx="384.6" cy="564.7" r="4.2"/><circle cx="389.6" cy="562.4" r="4.2"/><circle cx="394.6" cy="560.3" r="4.2"/><circle cx="399.6" cy="558.5" r="4.2"/><circle cx="404.6" cy="556.9" r="4.2"/><circle cx="409.6" cy="555.4" r="4.2"/><circle cx="414.6" cy="554.0" r="4.2"/><circle cx="419.6" cy="552.8" r="4.2"/><circle cx="424.6" cy="551.6" r="4.2"/><circle cx="429.6" cy="550.4" r="4.2"/><circle cx="434.6" cy="549.4" r="4.2"/><circle cx="439.6" cy="548.5" r="4.2"/><circle cx="444.6" cy="547.7" r="4.2"/><circle cx="449.6" cy="547.0" r="4.2"/><circle cx="454.6" cy="546.4" r="4.2"/><circle cx="459.6" cy="545.8" r="4.2"/><circle cx="464.6" cy="545.3" r="4.2"/><circle cx="469.6" cy="544.8" r="4.2"/><circle cx="474.6" cy="544.4" r="4.2"/><circle cx="479.6" cy="544.0" r="4.2"/><circle cx="484.6" cy="543.7" r="4.2"/><circle cx="489.6" cy="543.4" r="4.2"/><circle cx="494.6" cy="543.1" r="4.2"/><circle cx="499.6" cy="542.9" r="4.2"/><circle cx="504.6" cy="542.7" r="4.2"/><circle cx="509.6" cy="542.5" r="4.2"/><circle cx="514.6" cy="542.4" r="4.2"/><circle cx="519.6" cy="542.2" r="4.2"/><circle cx="524.6" cy="542.1" r="4.2"/><circle cx="529.6" cy="542.0" r="4.2"/><circle cx="534.6" cy="541.9" r="4.2"/><circle cx="539.6" cy="541.8" r="4.2"/><circle cx="544.6" cy="541.7" r="4.2"/><circle cx="549.6" cy="541.6" r="4.2"/><circle cx="554.6" cy="541.5" r="4.2"/><circle cx="559.6" cy="541.5" r="4.2"/><circle cx="564.6" cy="541.4" r="4.2"/><circle cx="569.6" cy="541.4" r="4.2"/><circle cx="574.6" cy="541.3" r="4.2"/><circle cx="579.6" cy="541.3" r="4.2"/></g>
<rect x="293" y="595.3" width="72.0" height="40.1" fill="#b3b3b3"/>
<g fill="#fff" stroke="#333" stroke-width="1.45"><circle cx="84.6" cy="991.0" r="3.1"/><circle cx="89.6" cy="991.0" r="3.1"/><circle cx="94.6" cy="991.0" r="3.1"/><circle cx="99.6" cy="991.0" r="3.1"/><circle cx="104.6" cy="991.0" r="3.1"/><circle cx="109.6" cy="991.0" r="3.1"/><circle cx="114.6" cy="991.0" r="3.1"/><circle cx="119.6" cy="991.0" r="3.1"/><circle cx="124.6" cy="991.0" r="3.1"/><circle cx="129.6" cy="991.0" r="3.1"/><circle cx="134.6" cy="991.0" r="3.1"/><circle cx="139.6" cy="991.0" r="3.1"/><circle cx="144.6" cy="991.0" r="3.1"/><circle cx="149.6" cy="991.0" r="3.1"/><circle cx="154.6" cy="991.0" r="3.1"/><circle cx="159.6" cy="991.0" r="3.1"/><circle cx="164.6" cy="991.0" r="3.1"/><circle cx="169.6" cy="991.0" r="3.1"/><circle cx="174.6" cy="991.0" r="3.1"/><circle cx="179.6" cy="991.0" r="3.1"/><circle cx="184.6" cy="991.0" r="3.1"/><circle cx="189.6" cy="991.0" r="3.1"/><circle cx="194.6" cy="990.9" r="3.1"/><circle cx="199.6" cy="990.9" r="3.1"/><circle cx="204.6" cy="990.9" r="3.1"/><circle cx="209.6" cy="990.9" r="3.1"/><circle cx="214.6" cy="990.9" r="3.1"/><circle cx="219.6" cy="990.9" r="3.1"/><circle cx="224.6" cy="990.9" r="3.1"/><circle cx="229.6" cy="990.9" r="3.1"/><circle cx="234.6" cy="990.9" r="3.1"/><circle cx="239.6" cy="990.9" r="3.1"/><circle cx="244.6" cy="990.8" r="3.1"/><circle cx="249.6" cy="990.8" r="3.1"/><circle cx="254.6" cy="990.8" r="3.1"/><circle cx="259.6" cy="990.8" r="3.1"/><circle cx="264.6" cy="990.7" r="3.1"/><circle cx="269.6" cy="990.7" r="3.1"/><circle cx="274.6" cy="990.7" r="3.1"/><circle cx="279.6" cy="990.6" r="3.1"/><circle cx="284.6" cy="990.6" r="3.1"/><circle cx="289.6" cy="990.5" r="3.1"/><circle cx="294.6" cy="990.5" r="3.1"/><circle cx="299.6" cy="990.4" r="3.1"/><circle cx="304.6" cy="990.4" r="3.1"/><circle cx="309.6" cy="990.3" r="3.1"/><circle cx="314.6" cy="990.2" r="3.1"/><circle cx="319.6" cy="990.1" r="3.1"/><circle cx="324.6" cy="990.0" r="3.1"/><circle cx="329.6" cy="989.9" r="3.1"/><circle cx="334.6" cy="989.7" r="3.1"/><circle cx="339.6" cy="989.6" r="3.1"/><circle cx="344.6" cy="989.4" r="3.1"/><circle cx="349.6" cy="989.2" r="3.1"/><circle cx="354.6" cy="989.0" r="3.1"/><circle cx="359.6" cy="988.7" r="3.1"/><circle cx="364.6" cy="988.5" r="3.1"/><circle cx="369.6" cy="988.1" r="3.1"/><circle cx="374.6" cy="987.8" r="3.1"/><circle cx="379.6" cy="987.4" r="3.1"/><circle cx="384.6" cy="987.0" r="3.1"/><circle cx="389.6" cy="986.5" r="3.1"/><circle cx="394.6" cy="985.9" r="3.1"/><circle cx="399.6" cy="985.3" r="3.1"/><circle cx="404.6" cy="984.6" r="3.1"/><circle cx="409.6" cy="983.7" r="3.1"/><circle cx="414.6" cy="982.7" r="3.1"/><circle cx="419.6" cy="981.6" r="3.1"/><circle cx="424.6" cy="980.4" r="3.1"/><circle cx="429.6" cy="978.9" r="3.1"/><circle cx="434.6" cy="977.7" r="3.1"/><circle cx="439.6" cy="976.3" r="3.1"/><circle cx="444.6" cy="974.9" r="3.1"/><circle cx="449.6" cy="972.9" r="3.1"/><circle cx="454.6" cy="970.8" r="3.1"/><circle cx="459.6" cy="968.4" r="3.1"/><circle cx="464.6" cy="965.7" r="3.1"/><circle cx="469.6" cy="962.9" r="3.1"/><circle cx="474.6" cy="959.9" r="3.1"/><circle cx="479.6" cy="956.5" r="3.1"/><circle cx="484.6" cy="952.7" r="3.1"/><circle cx="489.6" cy="948.7" r="3.1"/><circle cx="494.6" cy="944.4" r="3.1"/><circle cx="499.6" cy="939.6" r="3.1"/><circle cx="504.6" cy="934.4" r="3.1"/><circle cx="509.6" cy="928.7" r="3.1"/><circle cx="514.6" cy="922.4" r="3.1"/><circle cx="519.6" cy="915.7" r="3.1"/><circle cx="524.6" cy="908.6" r="3.1"/><circle cx="529.6" cy="901.0" r="3.1"/><circle cx="534.6" cy="892.9" r="3.1"/><circle cx="539.6" cy="884.3" r="3.1"/><circle cx="544.6" cy="875.2" r="3.1"/><circle cx="549.6" cy="865.5" r="3.1"/><circle cx="554.6" cy="855.6" r="3.1"/><circle cx="559.6" cy="845.2" r="3.1"/><circle cx="564.6" cy="834.4" r="3.1"/><circle cx="569.6" cy="822.9" r="3.1"/><circle cx="574.6" cy="811.0" r="3.1"/><circle cx="579.6" cy="798.9" r="3.1"/></g>
<rect x="500" y="870.2" width="67.0" height="40.8" fill="#b3b3b3"/>
<g fill="#000"><rect x="79.6" y="985.5" width="9.9" height="9.9"/><rect x="84.6" y="985.5" width="9.9" height="9.9"/><rect x="89.6" y="985.4" width="9.9" height="9.9"/><rect x="94.6" y="985.3" width="9.9" height="9.9"/><rect x="99.6" y="985.2" width="9.9" height="9.9"/><rect x="104.6" y="985.1" width="9.9" height="9.9"/><rect x="109.6" y="985.0" width="9.9" height="9.9"/><rect x="114.6" y="984.9" width="9.9" height="9.9"/><rect x="119.6" y="984.8" width="9.9" height="9.9"/><rect x="124.6" y="984.6" width="9.9" height="9.9"/><rect x="129.7" y="984.4" width="9.9" height="9.9"/><rect x="134.7" y="984.2" width="9.9" height="9.9"/><rect x="139.7" y="984.0" width="9.9" height="9.9"/><rect x="144.7" y="983.7" width="9.9" height="9.9"/><rect x="149.7" y="983.5" width="9.9" height="9.9"/><rect x="154.7" y="983.2" width="9.9" height="9.9"/><rect x="159.7" y="982.8" width="9.9" height="9.9"/><rect x="164.7" y="982.4" width="9.9" height="9.9"/><rect x="169.7" y="982.0" width="9.9" height="9.9"/><rect x="174.7" y="981.5" width="9.9" height="9.9"/><rect x="179.7" y="980.9" width="9.9" height="9.9"/><rect x="184.7" y="980.3" width="9.9" height="9.9"/><rect x="189.7" y="979.6" width="9.9" height="9.9"/><rect x="194.7" y="978.8" width="9.9" height="9.9"/><rect x="199.7" y="978.0" width="9.9" height="9.9"/><rect x="204.7" y="977.0" width="9.9" height="9.9"/><rect x="209.7" y="975.9" width="9.9" height="9.9"/><rect x="214.7" y="974.7" width="9.9" height="9.9"/><rect x="219.7" y="973.4" width="9.9" height="9.9"/><rect x="224.7" y="971.9" width="9.9" height="9.9"/><rect x="229.7" y="970.2" width="9.9" height="9.9"/><rect x="234.7" y="968.6" width="9.9" height="9.9"/><rect x="239.7" y="966.9" width="9.9" height="9.9"/><rect x="244.7" y="965.0" width="9.9" height="9.9"/><rect x="249.7" y="962.6" width="9.9" height="9.9"/><rect x="254.7" y="959.9" width="9.9" height="9.9"/><rect x="259.7" y="957.0" width="9.9" height="9.9"/><rect x="264.7" y="953.7" width="9.9" height="9.9"/><rect x="269.7" y="950.0" width="9.9" height="9.9"/><rect x="274.7" y="945.9" width="9.9" height="9.9"/><rect x="279.7" y="941.5" width="9.9" height="9.9"/><rect x="284.7" y="936.6" width="9.9" height="9.9"/><rect x="289.7" y="931.1" width="9.9" height="9.9"/><rect x="294.7" y="925.1" width="9.9" height="9.9"/><rect x="299.7" y="918.6" width="9.9" height="9.9"/><rect x="304.7" y="911.5" width="9.9" height="9.9"/><rect x="309.7" y="904.2" width="9.9" height="9.9"/><rect x="314.7" y="896.6" width="9.9" height="9.9"/><rect x="319.7" y="888.4" width="9.9" height="9.9"/><rect x="324.7" y="879.7" width="9.9" height="9.9"/><rect x="329.7" y="870.3" width="9.9" height="9.9"/><rect x="334.7" y="860.2" width="9.9" height="9.9"/><rect x="339.7" y="849.7" width="9.9" height="9.9"/><rect x="344.7" y="838.7" width="9.9" height="9.9"/><rect x="349.7" y="828.1" width="9.9" height="9.9"/><rect x="354.7" y="817.2" width="9.9" height="9.9"/><rect x="359.7" y="806.1" width="9.9" height="9.9"/><rect x="364.7" y="794.7" width="9.9" height="9.9"/><rect x="369.7" y="783.2" width="9.9" height="9.9"/><rect x="374.7" y="771.5" width="9.9" height="9.9"/><rect x="379.7" y="759.8" width="9.9" height="9.9"/><rect x="384.7" y="747.9" width="9.9" height="9.9"/><rect x="389.7" y="736.1" width="9.9" height="9.9"/><rect x="394.7" y="724.4" width="9.9" height="9.9"/><rect x="399.7" y="712.8" width="9.9" height="9.9"/><rect x="404.7" y="701.6" width="9.9" height="9.9"/><rect x="409.7" y="690.6" width="9.9" height="9.9"/><rect x="414.7" y="680.0" width="9.9" height="9.9"/><rect x="419.7" y="669.8" width="9.9" height="9.9"/><rect x="424.7" y="660.1" width="9.9" height="9.9"/><rect x="429.7" y="650.8" width="9.9" height="9.9"/><rect x="434.7" y="641.9" width="9.9" height="9.9"/><rect x="439.7" y="633.6" width="9.9" height="9.9"/><rect x="444.7" y="625.4" width="9.9" height="9.9"/><rect x="449.7" y="617.7" width="9.9" height="9.9"/><rect x="454.7" y="610.4" width="9.9" height="9.9"/><rect x="459.7" y="603.5" width="9.9" height="9.9"/><rect x="464.7" y="596.9" width="9.9" height="9.9"/><rect x="469.7" y="590.9" width="9.9" height="9.9"/><rect x="474.7" y="585.4" width="9.9" height="9.9"/><rect x="479.7" y="580.4" width="9.9" height="9.9"/><rect x="484.7" y="575.9" width="9.9" height="9.9"/><rect x="489.7" y="571.6" width="9.9" height="9.9"/><rect x="494.7" y="567.5" width="9.9" height="9.9"/><rect x="499.7" y="563.8" width="9.9" height="9.9"/><rect x="504.7" y="560.5" width="9.9" height="9.9"/><rect x="509.7" y="557.5" width="9.9" height="9.9"/><rect x="514.6" y="554.6" width="9.9" height="9.9"/><rect x="519.6" y="552.2" width="9.9" height="9.9"/><rect x="524.6" y="550.1" width="9.9" height="9.9"/><rect x="529.6" y="548.3" width="9.9" height="9.9"/><rect x="534.6" y="546.7" width="9.9" height="9.9"/><rect x="539.6" y="545.4" width="9.9" height="9.9"/><rect x="544.6" y="544.2" width="9.9" height="9.9"/><rect x="549.6" y="543.4" width="9.9" height="9.9"/><rect x="554.6" y="543.0" width="9.9" height="9.9"/><rect x="559.6" y="542.5" width="9.9" height="9.9"/><rect x="564.6" y="542.1" width="9.9" height="9.9"/><rect x="569.6" y="541.5" width="9.9" height="9.9"/><rect x="574.6" y="540.9" width="9.9" height="9.9"/></g>
<g fill="#fff" stroke="#9e9e9e" stroke-width="1.3"><rect x="80.2" y="986.2" width="8.7" height="8.7"/><rect x="85.2" y="986.2" width="8.7" height="8.7"/><rect x="90.2" y="986.1" width="8.7" height="8.7"/><rect x="95.2" y="986.1" width="8.7" height="8.7"/><rect x="100.2" y="986.0" width="8.7" height="8.7"/><rect x="105.2" y="985.9" width="8.7" height="8.7"/><rect x="110.2" y="985.8" width="8.7" height="8.7"/><rect x="115.2" y="985.7" width="8.7" height="8.7"/><rect x="120.2" y="985.6" width="8.7" height="8.7"/><rect x="125.2" y="985.5" width="8.7" height="8.7"/><rect x="130.2" y="985.3" width="8.7" height="8.7"/><rect x="135.2" y="985.2" width="8.7" height="8.7"/><rect x="140.2" y="985.0" width="8.7" height="8.7"/><rect x="145.2" y="984.8" width="8.7" height="8.7"/><rect x="150.2" y="984.6" width="8.7" height="8.7"/><rect x="155.2" y="984.3" width="8.7" height="8.7"/><rect x="160.2" y="984.0" width="8.7" height="8.7"/><rect x="165.2" y="983.7" width="8.7" height="8.7"/><rect x="170.2" y="983.3" width="8.7" height="8.7"/><rect x="175.2" y="982.9" width="8.7" height="8.7"/><rect x="180.2" y="982.5" width="8.7" height="8.7"/><rect x="185.2" y="982.0" width="8.7" height="8.7"/><rect x="190.2" y="981.4" width="8.7" height="8.7"/><rect x="195.2" y="980.8" width="8.7" height="8.7"/><rect x="200.2" y="980.1" width="8.7" height="8.7"/><rect x="205.2" y="979.3" width="8.7" height="8.7"/><rect x="210.2" y="978.4" width="8.7" height="8.7"/><rect x="215.2" y="977.4" width="8.7" height="8.7"/><rect x="220.2" y="976.3" width="8.7" height="8.7"/><rect x="225.2" y="975.1" width="8.7" height="8.7"/><rect x="230.2" y="973.7" width="8.7" height="8.7"/><rect x="235.2" y="972.2" width="8.7" height="8.7"/><rect x="240.2" y="970.5" width="8.7" height="8.7"/><rect x="245.2" y="968.9" width="8.7" height="8.7"/><rect x="250.2" y="967.1" width="8.7" height="8.7"/><rect x="255.3" y="965.2" width="8.7" height="8.7"/><rect x="260.2" y="962.8" width="8.7" height="8.7"/><rect x="265.2" y="960.0" width="8.7" height="8.7"/><rect x="270.2" y="957.0" width="8.7" height="8.7"/><rect x="275.2" y="953.6" width="8.7" height="8.7"/><rect x="280.2" y="949.9" width="8.7" height="8.7"/><rect x="285.2" y="945.8" width="8.7" height="8.7"/><rect x="290.2" y="941.2" width="8.7" height="8.7"/><rect x="295.2" y="936.2" width="8.7" height="8.7"/><rect x="300.2" y="930.7" width="8.7" height="8.7"/><rect x="305.2" y="924.6" width="8.7" height="8.7"/><rect x="310.2" y="917.9" width="8.7" height="8.7"/><rect x="315.2" y="910.8" width="8.7" height="8.7"/><rect x="320.2" y="903.5" width="8.7" height="8.7"/><rect x="325.2" y="895.7" width="8.7" height="8.7"/><rect x="330.2" y="887.5" width="8.7" height="8.7"/><rect x="335.2" y="878.7" width="8.7" height="8.7"/><rect x="340.2" y="869.1" width="8.7" height="8.7"/><rect x="345.2" y="859.0" width="8.7" height="8.7"/><rect x="350.2" y="848.4" width="8.7" height="8.7"/><rect x="355.2" y="837.3" width="8.7" height="8.7"/><rect x="360.2" y="826.7" width="8.7" height="8.7"/><rect x="365.2" y="815.8" width="8.7" height="8.7"/><rect x="370.2" y="804.6" width="8.7" height="8.7"/><rect x="375.2" y="793.2" width="8.7" height="8.7"/><rect x="380.2" y="781.7" width="8.7" height="8.7"/><rect x="385.2" y="770.0" width="8.7" height="8.7"/><rect x="390.2" y="758.3" width="8.7" height="8.7"/><rect x="395.2" y="746.1" width="8.7" height="8.7"/><rect x="400.2" y="734.0" width="8.7" height="8.7"/><rect x="405.2" y="722.1" width="8.7" height="8.7"/><rect x="410.2" y="710.5" width="8.7" height="8.7"/><rect x="415.2" y="699.1" width="8.7" height="8.7"/><rect x="420.2" y="688.0" width="8.7" height="8.7"/><rect x="425.2" y="677.3" width="8.7" height="8.7"/><rect x="430.2" y="667.1" width="8.7" height="8.7"/><rect x="435.2" y="657.3" width="8.7" height="8.7"/><rect x="440.2" y="648.0" width="8.7" height="8.7"/><rect x="445.2" y="639.2" width="8.7" height="8.7"/><rect x="450.2" y="630.9" width="8.7" height="8.7"/><rect x="455.2" y="622.8" width="8.7" height="8.7"/><rect x="460.2" y="615.2" width="8.7" height="8.7"/><rect x="465.2" y="608.2" width="8.7" height="8.7"/><rect x="470.2" y="601.3" width="8.7" height="8.7"/><rect x="475.2" y="594.9" width="8.7" height="8.7"/><rect x="480.2" y="589.1" width="8.7" height="8.7"/><rect x="485.2" y="583.9" width="8.7" height="8.7"/><rect x="490.2" y="579.1" width="8.7" height="8.7"/><rect x="495.2" y="574.8" width="8.7" height="8.7"/><rect x="500.2" y="570.4" width="8.7" height="8.7"/><rect x="505.2" y="566.5" width="8.7" height="8.7"/><rect x="510.2" y="563.0" width="8.7" height="8.7"/><rect x="515.2" y="559.8" width="8.7" height="8.7"/><rect x="520.2" y="556.8" width="8.7" height="8.7"/><rect x="525.2" y="554.2" width="8.7" height="8.7"/><rect x="530.2" y="551.9" width="8.7" height="8.7"/><rect x="535.2" y="549.8" width="8.7" height="8.7"/><rect x="540.2" y="548.2" width="8.7" height="8.7"/><rect x="545.2" y="546.8" width="8.7" height="8.7"/><rect x="550.2" y="545.5" width="8.7" height="8.7"/><rect x="555.2" y="544.4" width="8.7" height="8.7"/><rect x="560.2" y="543.8" width="8.7" height="8.7"/><rect x="565.2" y="543.4" width="8.7" height="8.7"/><rect x="570.2" y="542.9" width="8.7" height="8.7"/><rect x="575.2" y="542.5" width="8.7" height="8.7"/></g>
<rect x="425.4" y="668.3" width="64.6" height="24.7" fill="#b3b3b3"/>
<g fill="#fff" stroke="#000" stroke-width="2.5" stroke-linejoin="round"><path d="M80.7 990.9L84.6 987.0L88.5 990.9L84.6 994.8Z"/><path d="M85.7 990.9L89.6 987.0L93.5 990.9L89.6 994.8Z"/><path d="M90.7 990.9L94.6 987.0L98.5 990.9L94.6 994.8Z"/><path d="M95.7 990.9L99.6 987.0L103.5 990.9L99.6 994.8Z"/><path d="M100.7 990.8L104.6 986.9L108.5 990.8L104.6 994.7Z"/><path d="M105.7 990.8L109.6 986.9L113.5 990.8L109.6 994.7Z"/><path d="M110.7 990.8L114.6 986.9L118.5 990.8L114.6 994.7Z"/><path d="M115.7 990.8L119.6 986.9L123.5 990.8L119.6 994.7Z"/><path d="M120.7 990.7L124.6 986.8L128.5 990.7L124.6 994.6Z"/><path d="M125.7 990.7L129.6 986.8L133.5 990.7L129.6 994.6Z"/><path d="M130.7 990.7L134.6 986.8L138.5 990.7L134.6 994.6Z"/><path d="M135.7 990.6L139.6 986.7L143.5 990.6L139.6 994.5Z"/><path d="M140.7 990.6L144.6 986.7L148.5 990.6L144.6 994.5Z"/><path d="M145.7 990.5L149.6 986.6L153.5 990.5L149.6 994.4Z"/><path d="M150.7 990.5L154.6 986.6L158.5 990.5L154.6 994.4Z"/><path d="M155.7 990.4L159.6 986.5L163.5 990.4L159.6 994.3Z"/><path d="M160.7 990.4L164.6 986.5L168.5 990.4L164.6 994.3Z"/><path d="M165.7 990.3L169.6 986.4L173.5 990.3L169.6 994.2Z"/><path d="M170.7 990.2L174.6 986.3L178.5 990.2L174.6 994.1Z"/><path d="M175.7 990.1L179.6 986.2L183.5 990.1L179.6 994.0Z"/><path d="M180.7 990.0L184.6 986.1L188.5 990.0L184.6 993.9Z"/><path d="M185.7 989.9L189.6 986.0L193.5 989.9L189.6 993.8Z"/><path d="M190.7 989.7L194.6 985.8L198.5 989.7L194.6 993.6Z"/><path d="M195.7 989.6L199.6 985.7L203.5 989.6L199.6 993.5Z"/><path d="M200.7 989.4L204.6 985.5L208.5 989.4L204.6 993.3Z"/><path d="M205.7 989.2L209.6 985.3L213.5 989.2L209.6 993.1Z"/><path d="M210.7 989.0L214.6 985.1L218.5 989.0L214.6 992.9Z"/><path d="M215.7 988.7L219.6 984.8L223.5 988.7L219.6 992.6Z"/><path d="M220.7 988.4L224.6 984.5L228.5 988.4L224.6 992.3Z"/><path d="M225.7 988.1L229.6 984.2L233.5 988.1L229.6 992.0Z"/><path d="M230.7 987.8L234.6 983.9L238.5 987.8L234.6 991.7Z"/><path d="M235.7 987.4L239.6 983.5L243.5 987.4L239.6 991.3Z"/><path d="M240.7 987.0L244.6 983.1L248.5 987.0L244.6 990.9Z"/><path d="M245.7 986.5L249.6 982.6L253.5 986.5L249.6 990.4Z"/><path d="M250.7 985.9L254.6 982.0L258.5 985.9L254.6 989.8Z"/><path d="M255.7 985.3L259.6 981.4L263.5 985.3L259.6 989.2Z"/><path d="M260.7 984.6L264.6 980.7L268.5 984.6L264.6 988.5Z"/><path d="M265.7 983.9L269.6 980.0L273.5 983.9L269.6 987.8Z"/><path d="M270.7 983.0L274.6 979.1L278.5 983.0L274.6 986.9Z"/><path d="M275.7 982.1L279.6 978.2L283.5 982.1L279.6 986.0Z"/><path d="M280.7 981.2L284.6 977.3L288.5 981.2L284.6 985.1Z"/><path d="M285.7 980.2L289.6 976.3L293.5 980.2L289.6 984.1Z"/><path d="M290.7 979.2L294.6 975.3L298.5 979.2L294.6 983.1Z"/><path d="M295.7 978.0L299.6 974.1L303.5 978.0L299.6 981.9Z"/><path d="M300.7 976.8L304.6 972.9L308.5 976.8L304.6 980.7Z"/><path d="M305.7 975.4L309.6 971.5L313.5 975.4L309.6 979.3Z"/><path d="M310.7 973.9L314.6 970.0L318.5 973.9L314.6 977.8Z"/><path d="M315.7 972.2L319.6 968.3L323.5 972.2L319.6 976.1Z"/><path d="M320.7 970.2L324.6 966.3L328.5 970.2L324.6 974.1Z"/><path d="M325.7 968.0L329.6 964.1L333.5 968.0L329.6 971.9Z"/><path d="M330.7 965.6L334.6 961.7L338.5 965.6L334.6 969.5Z"/><path d="M335.7 962.9L339.6 959.0L343.5 962.9L339.6 966.8Z"/><path d="M340.7 959.7L344.6 955.8L348.5 959.7L344.6 963.6Z"/><path d="M345.7 956.2L349.6 952.3L353.5 956.2L349.6 960.1Z"/><path d="M350.7 952.4L354.6 948.5L358.5 952.4L354.6 956.3Z"/><path d="M355.7 948.2L359.6 944.3L363.5 948.2L359.6 952.1Z"/><path d="M360.7 943.5L364.6 939.6L368.5 943.5L364.6 947.4Z"/><path d="M365.7 938.5L369.6 934.6L373.5 938.5L369.6 942.4Z"/><path d="M370.7 933.0L374.6 929.1L378.5 933.0L374.6 936.9Z"/><path d="M375.7 927.0L379.6 923.1L383.5 927.0L379.6 930.9Z"/><path d="M380.7 920.5L384.6 916.6L388.5 920.5L384.6 924.4Z"/><path d="M385.7 913.6L389.6 909.7L393.5 913.6L389.6 917.5Z"/><path d="M390.7 906.1L394.6 902.2L398.5 906.1L394.6 910.0Z"/><path d="M395.7 898.2L399.6 894.3L403.5 898.2L399.6 902.1Z"/><path d="M400.7 889.8L404.6 885.9L408.5 889.8L404.6 893.7Z"/><path d="M405.7 880.9L409.6 877.0L413.5 880.9L409.6 884.8Z"/><path d="M410.7 871.5L414.6 867.6L418.5 871.5L414.6 875.4Z"/><path d="M415.7 861.7L419.6 857.8L423.5 861.7L419.6 865.6Z"/><path d="M420.7 851.3L424.6 847.4L428.5 851.3L424.6 855.2Z"/><path d="M425.7 840.6L429.6 836.7L433.5 840.6L429.6 844.5Z"/><path d="M430.7 829.5L434.6 825.6L438.5 829.5L434.6 833.4Z"/><path d="M435.7 818.0L439.6 814.1L443.5 818.0L439.6 821.9Z"/><path d="M440.7 806.5L444.6 802.6L448.5 806.5L444.6 810.4Z"/><path d="M445.7 794.8L449.6 790.9L453.5 794.8L449.6 798.7Z"/><path d="M450.7 782.9L454.6 779.0L458.5 782.9L454.6 786.8Z"/><path d="M455.7 769.6L459.6 765.7L463.5 769.6L459.6 773.5Z"/><path d="M460.7 756.3L464.6 752.4L468.5 756.3L464.6 760.2Z"/><path d="M465.7 744.5L469.6 740.6L473.5 744.5L469.6 748.4Z"/><path d="M470.7 732.8L474.6 728.9L478.5 732.8L474.6 736.7Z"/><path d="M475.7 721.2L479.6 717.3L483.5 721.2L479.6 725.1Z"/><path d="M480.7 710.2L484.6 706.3L488.5 710.2L484.6 714.1Z"/><path d="M485.7 699.4L489.6 695.5L493.5 699.4L489.6 703.3Z"/><path d="M490.7 689.0L494.6 685.1L498.5 689.0L494.6 692.9Z"/><path d="M495.7 679.0L499.6 675.1L503.5 679.0L499.6 682.9Z"/><path d="M500.7 669.6L504.6 665.7L508.5 669.6L504.6 673.5Z"/><path d="M505.7 660.6L509.6 656.7L513.5 660.6L509.6 664.5Z"/><path d="M510.7 652.0L514.6 648.1L518.5 652.0L514.6 655.9Z"/><path d="M515.7 643.9L519.6 640.0L523.5 643.9L519.6 647.8Z"/><path d="M520.7 635.6L524.6 631.7L528.5 635.6L524.6 639.5Z"/><path d="M525.7 627.8L529.6 623.9L533.5 627.8L529.6 631.7Z"/><path d="M530.7 620.6L534.6 616.7L538.5 620.6L534.6 624.5Z"/><path d="M535.7 613.7L539.6 609.8L543.5 613.7L539.6 617.6Z"/><path d="M540.7 605.0L544.6 601.1L548.5 605.0L544.6 608.9Z"/><path d="M545.7 597.2L549.6 593.3L553.5 597.2L549.6 601.1Z"/><path d="M550.7 589.5L554.6 585.6L558.5 589.5L554.6 593.4Z"/><path d="M555.7 582.7L559.6 578.8L563.5 582.7L559.6 586.6Z"/><path d="M560.7 576.5L564.6 572.6L568.5 576.5L564.6 580.4Z"/><path d="M565.7 572.9L569.6 569.0L573.5 572.9L569.6 576.8Z"/><path d="M570.7 570.2L574.6 566.3L578.5 570.2L574.6 574.1Z"/><path d="M575.7 567.9L579.6 564.0L583.5 567.9L579.6 571.8Z"/></g>
<rect x="393" y="823.8" width="53.0" height="31.8" fill="#b3b3b3"/>
<g fill="#505050" stroke="#505050" stroke-width="2.6" stroke-linejoin="round"><path d="M80.6 991.0L84.6 987.0L88.6 991.0L84.6 995.0Z"/><path d="M85.6 990.9L89.6 986.9L93.6 990.9L89.6 994.9Z"/><path d="M90.6 990.9L94.6 986.9L98.6 990.9L94.6 994.9Z"/><path d="M95.6 990.9L99.6 986.9L103.6 990.9L99.6 994.9Z"/><path d="M100.6 990.9L104.6 986.9L108.6 990.9L104.6 994.9Z"/><path d="M105.6 990.9L109.6 986.9L113.6 990.9L109.6 994.9Z"/><path d="M110.6 990.9L114.6 986.9L118.6 990.9L114.6 994.9Z"/><path d="M115.6 990.9L119.6 986.9L123.6 990.9L119.6 994.9Z"/><path d="M120.6 990.9L124.6 986.9L128.6 990.9L124.6 994.9Z"/><path d="M125.6 990.9L129.6 986.9L133.6 990.9L129.6 994.9Z"/><path d="M130.6 990.9L134.6 986.9L138.6 990.9L134.6 994.9Z"/><path d="M135.6 990.8L139.6 986.8L143.6 990.8L139.6 994.8Z"/><path d="M140.6 990.8L144.6 986.8L148.6 990.8L144.6 994.8Z"/><path d="M145.6 990.8L149.6 986.8L153.6 990.8L149.6 994.8Z"/><path d="M150.6 990.8L154.6 986.8L158.6 990.8L154.6 994.8Z"/><path d="M155.6 990.7L159.6 986.7L163.6 990.7L159.6 994.7Z"/><path d="M160.6 990.7L164.6 986.7L168.6 990.7L164.6 994.7Z"/><path d="M165.6 990.7L169.6 986.7L173.6 990.7L169.6 994.7Z"/><path d="M170.6 990.6L174.6 986.6L178.6 990.6L174.6 994.6Z"/><path d="M175.6 990.6L179.6 986.6L183.6 990.6L179.6 994.6Z"/><path d="M180.6 990.5L184.6 986.5L188.6 990.5L184.6 994.5Z"/><path d="M185.6 990.5L189.6 986.5L193.6 990.5L189.6 994.5Z"/><path d="M190.6 990.4L194.6 986.4L198.6 990.4L194.6 994.4Z"/><path d="M195.6 990.3L199.6 986.3L203.6 990.3L199.6 994.3Z"/><path d="M200.6 990.3L204.6 986.3L208.6 990.3L204.6 994.3Z"/><path d="M205.6 990.2L209.6 986.2L213.6 990.2L209.6 994.2Z"/><path d="M210.6 990.1L214.6 986.1L218.6 990.1L214.6 994.1Z"/><path d="M215.6 990.0L219.6 986.0L223.6 990.0L219.6 994.0Z"/><path d="M220.6 989.8L224.6 985.8L228.6 989.8L224.6 993.8Z"/><path d="M225.6 989.7L229.6 985.7L233.6 989.7L229.6 993.7Z"/><path d="M230.6 989.5L234.6 985.5L238.6 989.5L234.6 993.5Z"/><path d="M235.6 989.3L239.6 985.3L243.6 989.3L239.6 993.3Z"/><path d="M240.6 989.1L244.6 985.1L248.6 989.1L244.6 993.1Z"/><path d="M245.6 988.9L249.6 984.9L253.6 988.9L249.6 992.9Z"/><path d="M250.6 988.7L254.6 984.7L258.6 988.7L254.6 992.7Z"/><path d="M255.6 988.4L259.6 984.4L263.6 988.4L259.6 992.4Z"/><path d="M260.6 988.1L264.6 984.1L268.6 988.1L264.6 992.1Z"/><path d="M265.6 987.7L269.6 983.7L273.6 987.7L269.6 991.7Z"/><path d="M270.6 987.3L274.6 983.3L278.6 987.3L274.6 991.3Z"/><path d="M275.6 986.9L279.6 982.9L283.6 986.9L279.6 990.9Z"/><path d="M280.6 986.4L284.6 982.4L288.6 986.4L284.6 990.4Z"/><path d="M285.6 985.8L289.6 981.8L293.6 985.8L289.6 989.8Z"/><path d="M290.6 985.2L294.6 981.2L298.6 985.2L294.6 989.2Z"/><path d="M295.6 984.5L299.6 980.5L303.6 984.5L299.6 988.5Z"/><path d="M300.6 983.7L304.6 979.7L308.6 983.7L304.6 987.7Z"/><path d="M305.6 982.8L309.6 978.8L313.6 982.8L309.6 986.8Z"/><path d="M310.6 981.8L314.6 977.8L318.6 981.8L314.6 985.8Z"/><path d="M315.6 980.7L319.6 976.7L323.6 980.7L319.6 984.7Z"/><path d="M320.6 979.5L324.6 975.5L328.6 979.5L324.6 983.5Z"/><path d="M325.6 978.2L329.6 974.2L333.6 978.2L329.6 982.2Z"/><path d="M330.6 976.6L334.6 972.6L338.6 976.6L334.6 980.6Z"/><path d="M335.6 974.9L339.6 970.9L343.6 974.9L339.6 978.9Z"/><path d="M340.6 973.0L344.6 969.0L348.6 973.0L344.6 977.0Z"/><path d="M345.6 970.8L349.6 966.8L353.6 970.8L349.6 974.8Z"/><path d="M350.6 968.3L354.6 964.3L358.6 968.3L354.6 972.3Z"/><path d="M355.6 965.6L359.6 961.6L363.6 965.6L359.6 969.6Z"/><path d="M360.6 962.8L364.6 958.8L368.6 962.8L364.6 966.8Z"/><path d="M365.6 959.8L369.6 955.8L373.6 959.8L369.6 963.8Z"/><path d="M370.6 956.5L374.6 952.5L378.6 956.5L374.6 960.5Z"/><path d="M375.6 952.9L379.6 948.9L383.6 952.9L379.6 956.9Z"/><path d="M380.6 949.2L384.6 945.2L388.6 949.2L384.6 953.2Z"/><path d="M385.6 945.1L389.6 941.1L393.6 945.1L389.6 949.1Z"/><path d="M390.6 940.8L394.6 936.8L398.6 940.8L394.6 944.8Z"/><path d="M395.6 936.0L399.6 932.0L403.6 936.0L399.6 940.0Z"/><path d="M400.6 930.5L404.6 926.5L408.6 930.5L404.6 934.5Z"/><path d="M405.6 924.6L409.6 920.6L413.6 924.6L409.6 928.6Z"/><path d="M410.6 918.1L414.6 914.1L418.6 918.1L414.6 922.1Z"/><path d="M415.6 911.2L419.6 907.2L423.6 911.2L419.6 915.2Z"/><path d="M420.6 904.0L424.6 900.0L428.6 904.0L424.6 908.0Z"/><path d="M425.6 896.2L429.6 892.2L433.6 896.2L429.6 900.2Z"/><path d="M430.6 888.0L434.6 884.0L438.6 888.0L434.6 892.0Z"/><path d="M435.6 879.2L439.6 875.2L443.6 879.2L439.6 883.2Z"/><path d="M440.6 870.2L444.6 866.2L448.6 870.2L444.6 874.2Z"/><path d="M445.6 860.8L449.6 856.8L453.6 860.8L449.6 864.8Z"/><path d="M450.6 849.8L454.6 845.8L458.6 849.8L454.6 853.8Z"/><path d="M455.6 838.3L459.6 834.3L463.6 838.3L459.6 842.3Z"/><path d="M460.6 826.9L464.6 822.9L468.6 826.9L464.6 830.9Z"/><path d="M465.6 815.2L469.6 811.2L473.6 815.2L469.6 819.2Z"/><path d="M470.6 803.2L474.6 799.2L478.6 803.2L474.6 807.2Z"/><path d="M475.6 791.0L479.6 787.0L483.6 791.0L479.6 795.0Z"/><path d="M480.6 779.2L484.6 775.2L488.6 779.2L484.6 783.2Z"/><path d="M485.6 767.3L489.6 763.3L493.6 767.3L489.6 771.3Z"/><path d="M490.6 755.4L494.6 751.4L498.6 755.4L494.6 759.4Z"/><path d="M495.6 744.0L499.6 740.0L503.6 744.0L499.6 748.0Z"/><path d="M500.6 732.6L504.6 728.6L508.6 732.6L504.6 736.6Z"/><path d="M505.6 721.4L509.6 717.4L513.6 721.4L509.6 725.4Z"/><path d="M510.6 710.2L514.6 706.2L518.6 710.2L514.6 714.2Z"/><path d="M515.6 699.3L519.6 695.3L523.6 699.3L519.6 703.3Z"/><path d="M520.6 688.8L524.6 684.8L528.6 688.8L524.6 692.8Z"/><path d="M525.6 678.5L529.6 674.5L533.6 678.5L529.6 682.5Z"/><path d="M530.6 667.4L534.6 663.4L538.6 667.4L534.6 671.4Z"/><path d="M535.6 656.9L539.6 652.9L543.6 656.9L539.6 660.9Z"/><path d="M540.6 647.0L544.6 643.0L548.6 647.0L544.6 651.0Z"/><path d="M545.6 637.4L549.6 633.4L553.6 637.4L549.6 641.4Z"/><path d="M550.6 625.4L554.6 621.4L558.6 625.4L554.6 629.4Z"/><path d="M555.6 614.6L559.6 610.6L563.6 614.6L559.6 618.6Z"/><path d="M560.6 606.1L564.6 602.1L568.6 606.1L564.6 610.1Z"/><path d="M565.6 597.7L569.6 593.7L573.6 597.7L569.6 601.7Z"/><path d="M570.6 593.3L574.6 589.3L578.6 593.3L574.6 597.3Z"/><path d="M575.6 590.6L579.6 586.6L583.6 590.6L579.6 594.6Z"/></g>
<g font-size="19" text-anchor="end">
<text x="69.7" y="500.7">0</text>
<text x="69.7" y="410.7">20</text>
<text x="69.7" y="320.7">40</text>
<text x="69.7" y="230.7">60</text>
<text x="69.7" y="140.7">80</text>
<text x="69.7" y="50.7">100</text>
<text x="69.7" y="995.3">0</text>
<text x="69.7" y="905.3">20</text>
<text x="69.7" y="815.3">40</text>
<text x="69.7" y="725.3">60</text>
<text x="69.7" y="635.3">80</text>
<text x="69.7" y="545.3">100</text>
</g>
<g font-size="18">
<text x="69.3" y="1021.3">10<tspan font-size="13" dy="-10.3">6</tspan></text>
<text x="169.3" y="1021.3">10<tspan font-size="13" dy="-10.3">7</tspan></text>
<text x="269.3" y="1021.3">10<tspan font-size="13" dy="-10.3">8</tspan></text>
<text x="369.3" y="1021.3">10<tspan font-size="13" dy="-10.3">9</tspan></text>
<text x="465.7" y="1021.3">10<tspan font-size="13" dy="-10.3">10</tspan></text>
<text x="566.1" y="1021.3">10<tspan font-size="13" dy="-10.3">11</tspan></text>
</g>
<text x="182" y="1054.6" font-size="19.4" font-weight="bold">Neutron density (neutrons cm<tspan font-size="13" dy="-10">-3</tspan><tspan dy="10">)</tspan></text>
<text transform="translate(16.5 268.0) rotate(-90)" font-size="24" font-weight="bold"><tspan font-style="italic">f</tspan><tspan font-style="italic" font-size="15" dy="6">n</tspan><tspan dy="-7" dx="5.5" font-size="22.6">(%)</tspan></text>
<text transform="translate(16.5 763.0) rotate(-90)" font-size="24" font-weight="bold"><tspan font-style="italic">f</tspan><tspan font-style="italic" font-size="15" dy="6">n</tspan><tspan dy="-7" dx="5.5" font-size="22.6">(%)</tspan></text>
<g font-size="22" font-weight="bold">
<text x="102.6" y="34.6" font-size="23.4">(a)</text>
<text x="98.5" y="96.3">T = 8 keV</text>
<text x="102.6" y="529.3" font-size="23.4">(b)</text>
<text x="380.5" y="530.7">T = 23 keV</text>
</g>
<text font-size="22"><tspan x="199.5" y="43.6" font-size="15">182</tspan><tspan x="224.6" y="54.1">Hf</tspan><tspan x="246.8" y="61.1" font-size="16" font-style="italic">β</tspan><tspan x="261.0" y="53.9" font-size="17">-</tspan></text>
<text font-size="22"><tspan x="342.3" y="141.3" font-size="15">182</tspan><tspan x="367.4" y="151.8">Ta</tspan><tspan x="393.1" y="158.8" font-size="16" font-style="italic">β</tspan><tspan x="408.0" y="151.6" font-size="17">-</tspan></text>
<text font-size="22"><tspan x="412.5" y="185.3" font-size="15">185</tspan><tspan x="435.8" y="195.8">W</tspan><tspan x="458.0" y="202.8" font-size="16" font-style="italic">β</tspan><tspan x="470.1" y="195.6" font-size="17">-</tspan></text>
<text font-size="22"><tspan x="498.6" y="267.8" font-size="15">183</tspan><tspan x="523.7" y="278.3">Ta</tspan><tspan x="549.4" y="285.3" font-size="16" font-style="italic">β</tspan><tspan x="564.3" y="278.1" font-size="17">-</tspan></text>
<text font-size="22"><tspan x="374.7" y="326.9" font-size="15">181</tspan><tspan x="399.8" y="337.4">Hf</tspan><tspan x="422.0" y="344.4" font-size="16" font-style="italic">β</tspan><tspan x="436.2" y="337.2" font-size="17">-</tspan></text>
<text font-size="22"><tspan x="357.5" y="390.5" font-size="15">95</tspan><tspan x="374.9" y="401.0">Zr</tspan><tspan x="396.0" y="408.0" font-size="16" font-style="italic">β</tspan><tspan x="409.5" y="400.8" font-size="17">-</tspan></text>
<text font-size="22"><tspan x="295.5" y="614.1" font-size="15">182</tspan><tspan x="320.6" y="624.6">Hf</tspan><tspan x="342.8" y="631.6" font-size="16" font-style="italic">β</tspan><tspan x="357.0" y="624.4" font-size="17">-</tspan></text>
<text font-size="22"><tspan x="337.5" y="684.1" font-size="15">182</tspan><tspan x="362.6" y="694.6">Ta</tspan><tspan x="388.3" y="701.6" font-size="16" font-style="italic">β</tspan><tspan x="403.2" y="694.4" font-size="17">-</tspan></text>
<text font-size="22"><tspan x="426.3" y="683.5" font-size="15">185</tspan><tspan x="449.6" y="694.0">W</tspan><tspan x="471.8" y="701.0" font-size="16" font-style="italic">β</tspan><tspan x="483.9" y="693.8" font-size="17">-</tspan></text>
<text font-size="22"><tspan x="489.6" y="786.0" font-size="15">183</tspan><tspan x="514.7" y="796.5">Ta</tspan><tspan x="540.4" y="803.5" font-size="16" font-style="italic">β</tspan><tspan x="555.3" y="796.3" font-size="17">-</tspan></text>
<text font-size="22"><tspan x="500.3" y="888.2" font-size="15">181</tspan><tspan x="525.4" y="898.7">Hf</tspan><tspan x="547.6" y="905.7" font-size="16" font-style="italic">β</tspan><tspan x="561.8" y="898.5" font-size="17">-</tspan></text>
<text font-size="22"><tspan x="394.5" y="836.2" font-size="15">95</tspan><tspan x="411.9" y="846.7">Zr</tspan><tspan x="433.0" y="853.7" font-size="16" font-style="italic">β</tspan><tspan x="446.5" y="846.5" font-size="17">-</tspan></text>
</svg>
</body></html>
